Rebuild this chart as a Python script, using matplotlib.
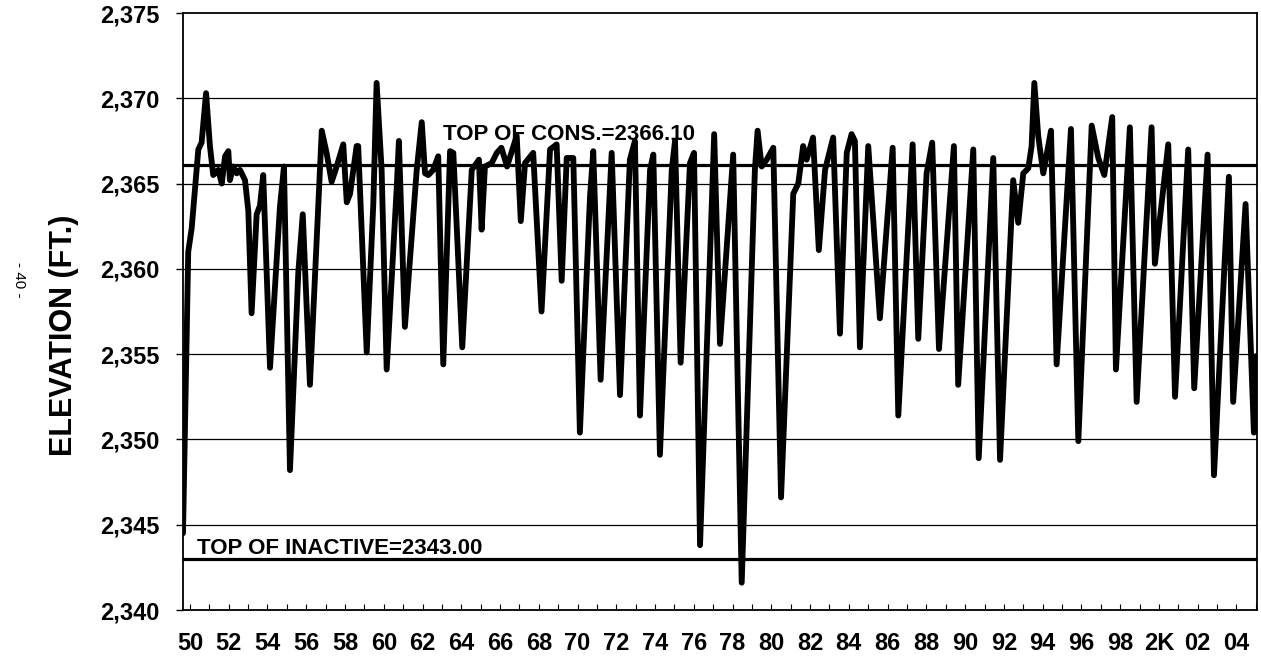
import matplotlib.pyplot as plt

plt.rcParams['font.family'] = ['Liberation Sans', 'DejaVu Sans']

# reservoir elevation (ft), time in decimal years
year = [1949.64, 1949.91, 1950.09, 1950.43, 1950.60, 1950.83, 1951.03, 1951.20, 1951.46, 1951.64,
        1951.81, 1951.98, 1952.06, 1952.23, 1952.41, 1952.58, 1952.84, 1953.01, 1953.18, 1953.44,
        1953.61, 1953.78, 1954.13, 1954.64, 1954.85, 1955.16, 1955.59, 1955.82, 1956.19, 1956.80,
        1957.05, 1957.31, 1957.57, 1957.91, 1958.09, 1958.26, 1958.60, 1958.68, 1959.12, 1959.46,
        1959.63, 1959.89, 1960.15, 1960.67, 1960.78, 1961.09, 1961.70, 1961.96, 1962.13, 1962.30,
        1962.55, 1962.81, 1963.07, 1963.42, 1963.59, 1964.05, 1964.54, 1964.91, 1965.05, 1965.22,
        1965.57, 1965.83, 1966.07, 1966.36, 1966.86, 1967.07, 1967.29, 1967.71, 1968.14, 1968.58,
        1968.92, 1969.18, 1969.44, 1969.78, 1970.12, 1970.64, 1970.81, 1971.19, 1971.76, 1972.19,
        1972.70, 1972.96, 1973.22, 1973.74, 1973.91, 1974.25, 1974.86, 1975.03, 1975.32, 1975.80,
        1976.01, 1976.32, 1977.05, 1977.35, 1978.03, 1978.47, 1979.15, 1979.29, 1979.50, 1979.76,
        1980.10, 1980.50, 1981.13, 1981.39, 1981.64, 1981.82, 1982.15, 1982.45, 1982.77, 1983.19,
        1983.54, 1983.89, 1984.14, 1984.31, 1984.57, 1985.00, 1985.60, 1986.26, 1986.55, 1987.29,
        1987.58, 1988.01, 1988.30, 1988.65, 1989.42, 1989.64, 1990.42, 1990.70, 1991.45, 1991.80,
        1992.48, 1992.74, 1993.00, 1993.26, 1993.43, 1993.57, 1993.77, 1994.03, 1994.43, 1994.72,
        1995.46, 1995.84, 1996.53, 1996.87, 1997.18, 1997.59, 1997.78, 1998.50, 1998.85, 1999.62,
        1999.79, 2000.48, 2000.83, 2001.51, 2001.82, 2002.51, 2002.84, 2003.61, 2003.83, 2004.47,
        2004.90, 2005.04]

elev = [2344.5, 2361.0, 2362.4, 2367.0, 2367.4, 2370.3, 2367.2, 2365.5, 2365.8, 2365.0,
        2366.6, 2366.9, 2365.2, 2366.0, 2365.6, 2365.8, 2365.2, 2363.4, 2357.4, 2363.2,
        2363.7, 2365.5, 2354.2, 2363.6, 2366.0, 2348.2, 2359.8, 2363.2, 2353.2, 2368.1,
        2366.8, 2365.1, 2366.0, 2367.3, 2363.9, 2364.4, 2367.2, 2367.2, 2355.1, 2363.8,
        2370.9, 2365.8, 2354.1, 2364.8, 2367.5, 2356.6, 2365.8, 2368.6, 2365.6, 2365.5,
        2365.8, 2366.6, 2354.4, 2366.9, 2366.8, 2355.4, 2365.8, 2366.4, 2362.3, 2366.0,
        2366.2, 2366.8, 2367.1, 2366.0, 2367.8, 2362.8, 2366.2, 2366.8, 2357.5, 2367.0,
        2367.3, 2359.3, 2366.5, 2366.5, 2350.4, 2364.2, 2366.9, 2353.5, 2366.8, 2352.6,
        2366.4, 2367.5, 2351.4, 2365.8, 2366.7, 2349.1, 2365.8, 2367.5, 2354.5, 2366.2,
        2366.8, 2343.8, 2367.9, 2355.6, 2366.7, 2341.6, 2365.8, 2368.1, 2366.0, 2366.4,
        2367.1, 2346.6, 2364.4, 2365.0, 2367.2, 2366.4, 2367.7, 2361.1, 2365.8, 2367.7,
        2356.2, 2366.8, 2367.9, 2367.5, 2355.4, 2367.2, 2357.1, 2367.1, 2351.4, 2367.3,
        2355.9, 2365.6, 2367.4, 2355.3, 2367.2, 2353.2, 2367.0, 2348.9, 2366.5, 2348.8,
        2365.2, 2362.7, 2365.6, 2365.9, 2367.2, 2370.9, 2367.8, 2365.6, 2368.1, 2354.4,
        2368.2, 2349.9, 2368.4, 2366.5, 2365.5, 2368.9, 2354.1, 2368.3, 2352.2, 2368.3,
        2360.3, 2367.3, 2352.5, 2367.0, 2353.0, 2366.7, 2347.9, 2365.4, 2352.2, 2363.8,
        2350.4, 2354.9]

top_of_cons = 2366.10
top_of_inactive = 2343.00

y_ticks = [2340, 2345, 2350, 2355, 2360, 2365, 2370, 2375]
x_tick_years = list(range(1950, 2005, 2))
x_tick_labels = ['50', '52', '54', '56', '58', '60', '62', '64', '66', '68', '70', '72', '74', '76',
                 '78', '80', '82', '84', '86', '88', '90', '92', '94', '96', '98', '2K', '02', '04']

W, H = 1261, 659
fig = plt.figure(figsize=(W / 100, H / 100), dpi=100)
ax = fig.add_axes([183 / W, 1 - 610 / H, (1257 - 183) / W, (610 - 13) / H])

# horizontal grid
for v in y_ticks[1:-1]:
    ax.axhline(v, color='black', lw=0.9, zorder=1)

# pool levels
ax.axhline(top_of_cons, color='black', lw=2.3, zorder=2)
ax.axhline(top_of_inactive, color='black', lw=2.3, zorder=2)

ax.plot(year, elev, color='black', lw=4.2, solid_joinstyle='round',
        solid_capstyle='round', zorder=3)

ax.text(1963.05, 2367.55, 'TOP OF CONS.=2366.10', fontsize=16, fontweight='bold',
        ha='left', va='baseline', zorder=4)
ax.text(1950.36, 2343.3, 'TOP OF INACTIVE=2343.00', fontsize=16, fontweight='bold',
        ha='left', va='baseline', zorder=4)

ax.set_xlim(1949.64, 2005.06)
ax.set_ylim(2340, 2375)

ax.set_yticks(y_ticks)
ax.set_yticklabels([f'{v:,}' for v in y_ticks], fontsize=17, fontweight='bold')
ax.tick_params(axis='y', direction='out', length=5, width=1, pad=12)

ax.set_xticks(x_tick_years)
ax.set_xticks(list(range(1950, 2006)), minor=True)
ax.set_xticklabels(x_tick_labels, fontsize=17, fontweight='bold',
                   family=['Liberation Sans Narrow', 'Liberation Sans'])
ax.tick_params(axis='x', which='both', direction='in', length=4, width=0.8, pad=16)

for s in ax.spines.values():
    s.set_linewidth(1.3)

fig.text(64 / W, 1 - 335 / H, 'ELEVATION (FT.)', rotation=90, fontsize=22,
         fontweight='bold', ha='center', va='center')
fig.text(19 / W, 1 - 280 / H, '- 40 -', rotation=-90, fontsize=11,
         ha='center', va='center')

fig.savefig('out.png', dpi=100)
